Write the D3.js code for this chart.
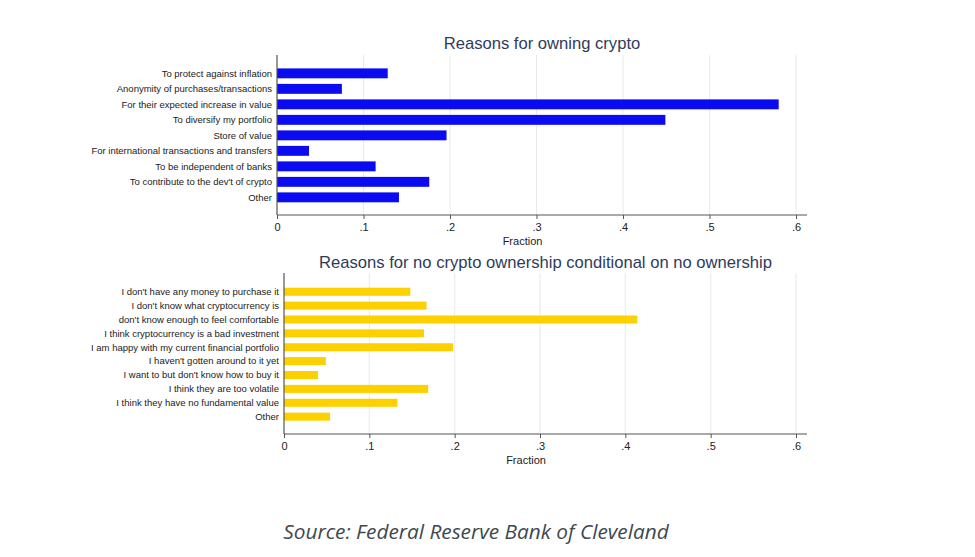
<!DOCTYPE html>
<html>
<head>
    <meta charset="utf-8">
    <title>Crypto ownership reasons</title>
    <script src="https://d3js.org/d3.v7.min.js"></script>
    <style>
        body { margin: 0; background: #fff; }
    </style>
</head>
<body>
<svg width="975" height="557"></svg>
<script>
    const width = 975;
    const height = 557;

    // data
    const ownReasons = [
        "To protect against inflation",
        "Anonymity of purchases/transactions",
        "For their expected increase in value",
        "To diversify my portfolio",
        "Store of value",
        "For international transactions and transfers",
        "To be independent of banks",
        "To contribute to the dev't of crypto",
        "Other"
    ];
    const ownValues = [0.128, 0.075, 0.580, 0.449, 0.196, 0.037, 0.114, 0.176, 0.141];

    const noOwnReasons = [
        "I don't have any money to purchase it",
        "I don't know what cryptocurrency is",
        "don't know enough to feel comfortable",
        "I think cryptocurrency is a bad investment",
        "I am happy with my current financial portfolio",
        "I haven't gotten around to it yet",
        "I want to but don't know how to buy it",
        "I think they are too volatile",
        "I think they have no fundamental value",
        "Other"
    ];
    const noOwnValues = [0.148, 0.167, 0.414, 0.164, 0.198, 0.049, 0.040, 0.169, 0.133, 0.054];

    const tickVals = [0, 0.1, 0.2, 0.3, 0.4, 0.5, 0.6];
    const tickLabels = ["0", ".1", ".2", ".3", ".4", ".5", ".6"];

    const svg = d3.select("svg");
    svg.append("rect").attr("width", width).attr("height", height).attr("fill", "#fff");

    const font = "'Liberation Sans', Arial, sans-serif";

    function panel(opts) {
        const g = svg.append("g");
        const x = d3.scaleLinear().domain([0, 0.6]).range([opts.left, opts.x6]);
        const y = d3.scaleBand().domain(opts.cats).range([opts.bandTop, opts.bandBottom]).paddingInner(opts.pad).paddingOuter(opts.pad / 2);

        // grid
        g.selectAll("line.grid").data(tickVals.slice(1)).join("line")
            .attr("class", "grid")
            .attr("x1", d => x(d)).attr("x2", d => x(d))
            .attr("y1", opts.axisTop).attr("y2", opts.axisY)
            .attr("stroke", "#e6e9ee").attr("stroke-width", 1);

        // bars
        g.selectAll("rect.bar").data(opts.vals).join("rect")
            .attr("class", "bar")
            .attr("x", x(0))
            .attr("y", (d, i) => y(opts.cats[i]))
            .attr("width", d => x(d) - x(0))
            .attr("height", y.bandwidth())
            .attr("fill", opts.color);

        // category labels
        g.selectAll("text.cat").data(opts.cats).join("text")
            .attr("class", "cat")
            .attr("x", opts.left - 5)
            .attr("y", d => y(d) + y.bandwidth() / 2)
            .attr("dy", "0.35em")
            .attr("text-anchor", "end")
            .attr("font-family", font)
            .attr("font-size", 9.5)
            .attr("fill", "#222")
            .text(d => d);

        // x axis
        const ax = g.append("g")
            .attr("transform", `translate(0,${opts.axisY})`)
            .call(d3.axisBottom(x).tickValues(tickVals).tickFormat((d, i) => tickLabels[i]).tickSize(4).tickSizeOuter(0));
        ax.select(".domain").remove();
        ax.selectAll(".tick line").attr("stroke", "#555");
        ax.selectAll(".tick text")
            .attr("font-family", font).attr("font-size", 11).attr("fill", "#222").attr("dy", "0.85em");
        g.append("line")
            .attr("x1", opts.left).attr("x2", opts.axisRight)
            .attr("y1", opts.axisY).attr("y2", opts.axisY)
            .attr("stroke", "#555").attr("stroke-width", 1.2);
        // y axis
        g.append("line")
            .attr("x1", opts.left).attr("x2", opts.left)
            .attr("y1", opts.axisTop).attr("y2", opts.axisY)
            .attr("stroke", "#555").attr("stroke-width", 1.2);

        g.append("text")
            .attr("x", x(0.3) - 14).attr("y", opts.axisY + 30)
            .attr("text-anchor", "middle")
            .attr("font-family", font).attr("font-size", 11).attr("fill", "#222")
            .text("Fraction");

        g.append("text")
            .attr("x", (opts.left + opts.axisRight) / 2).attr("y", opts.titleY)
            .attr("text-anchor", "middle")
            .attr("font-family", font).attr("font-size", 16.6).attr("fill", "#2f3b5a")
            .text(opts.title);
    }

    panel({
        cats: ownReasons, vals: ownValues, color: "#0b0bf2",
        left: 277, x6: 796, axisRight: 807,
        axisTop: 55, axisY: 215,
        bandTop: 65.6, bandBottom: 205.1, pad: 0.36,
        titleY: 49, title: "Reasons for owning crypto"
    });

    panel({
        cats: noOwnReasons, vals: noOwnValues, color: "#fdd000",
        left: 284, x6: 796, axisRight: 807,
        axisTop: 273, axisY: 434,
        bandTop: 284.8, bandBottom: 423.6, pad: 0.42,
        titleY: 268, title: "Reasons for no crypto ownership conditional on no ownership"
    });

    svg.append("text")
        .attr("x", 476).attr("y", 539)
        .attr("text-anchor", "middle")
        .attr("font-family", "'Open Sans', sans-serif")
        .attr("font-style", "italic")
        .attr("font-size", 20.8)
        .attr("fill", "#3e4850")
        .text("Source: Federal Reserve Bank of Cleveland");
</script>
</body>
</html>
